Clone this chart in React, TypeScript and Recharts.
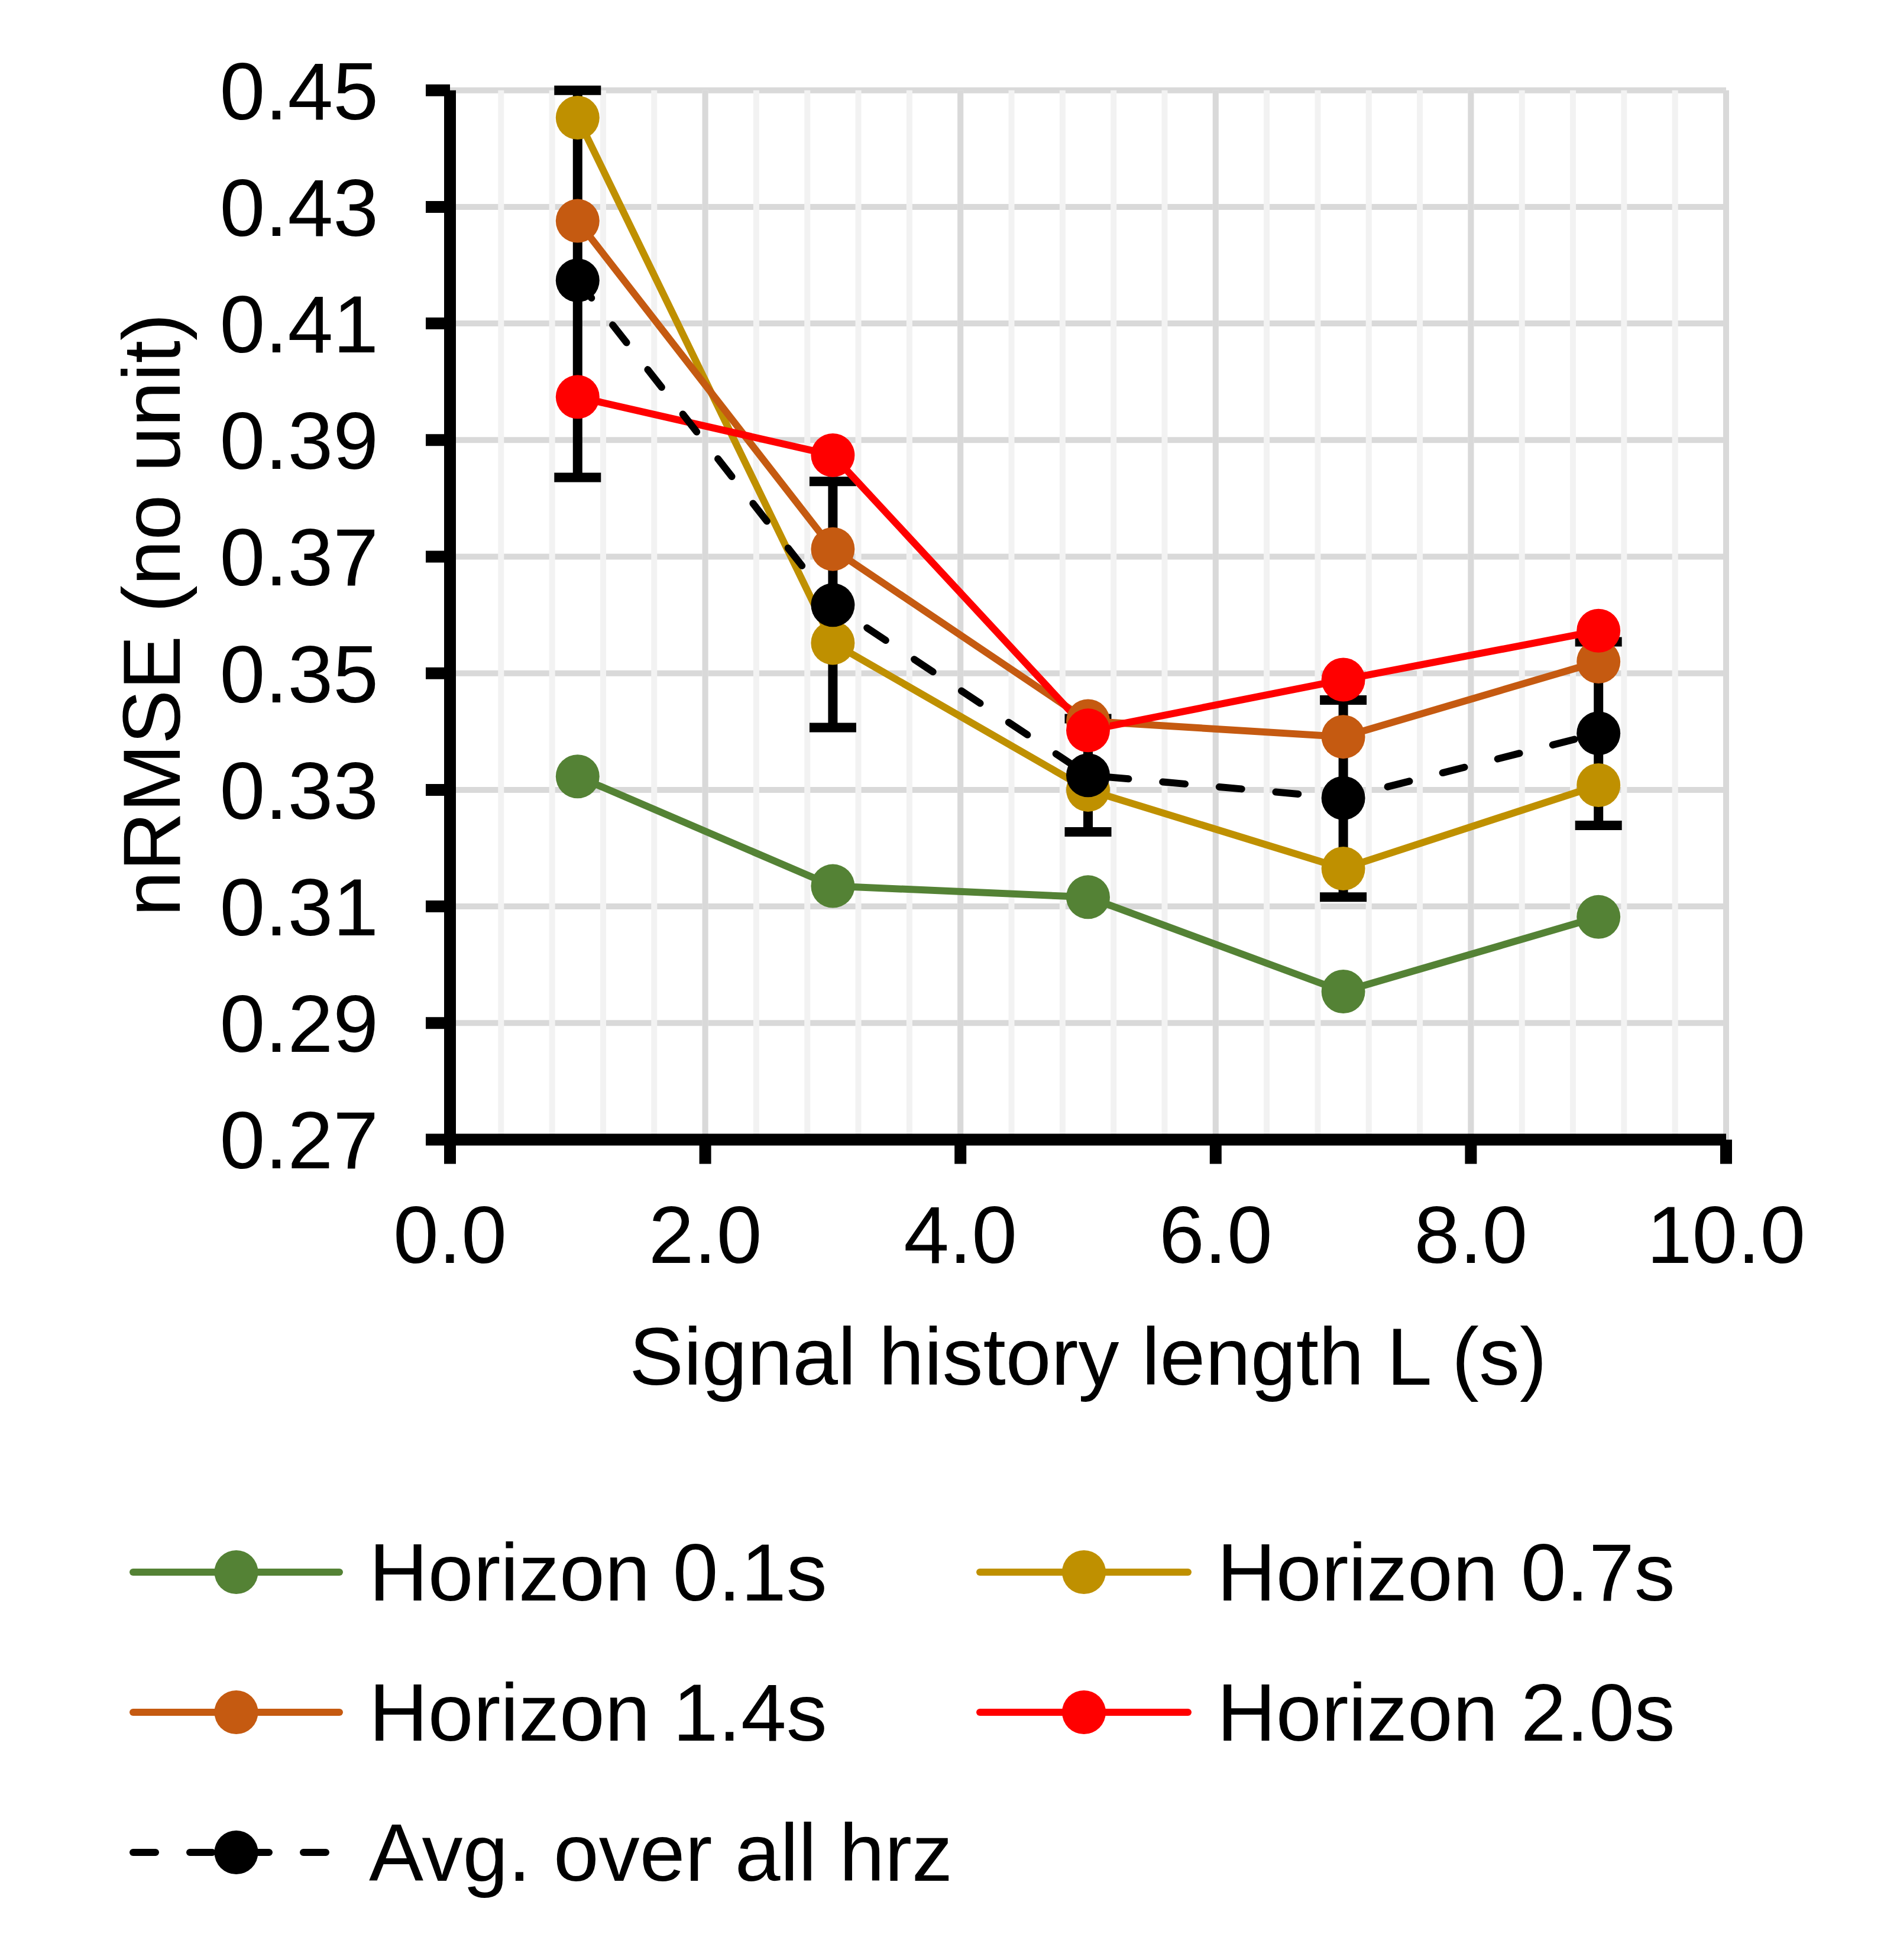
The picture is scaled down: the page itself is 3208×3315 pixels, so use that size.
import React from 'react';
import {
  LineChart,
  Line,
  XAxis,
  YAxis,
  CartesianGrid,
  ErrorBar,
  Legend,
  Label,
} from 'recharts';

// ---- data ----
const historyLengths = [1, 3, 5, 7, 9];
const horizon01 = [0.3323, 0.3135, 0.3116, 0.2954, 0.3082];
const horizon07 = [0.4453, 0.3552, 0.33, 0.3165, 0.3308];
const horizon14 = [0.4276, 0.3713, 0.3418, 0.3391, 0.352];
const horizon20 = [0.3974, 0.3874, 0.3402, 0.3489, 0.3573];
const avgAll = [0.4174, 0.3617, 0.3325, 0.3286, 0.3397];
const avgErrLow = [0.0338, 0.021, 0.0097, 0.017, 0.0158];
const avgErrHigh = [0.0326, 0.0212, 0.0097, 0.0168, 0.0157];

const xTicks = [0, 2, 4, 6, 8, 10];
const yTicks = [0.27, 0.29, 0.31, 0.33, 0.35, 0.37, 0.39, 0.41, 0.43, 0.45];
const xMinorTicks = Array.from({ length: 26 }, (_, i) => +(i * 0.4).toFixed(1));
const yMinorTicks = Array.from({ length: 46 }, (_, i) => +(0.27 + i * 0.004).toFixed(3));

const seriesDefs = [
  { key: 'h01', name: 'Horizon 0.1s', color: '#548235', dashed: false },
  { key: 'h07', name: 'Horizon 0.7s', color: '#BF9000', dashed: false },
  { key: 'h14', name: 'Horizon 1.4s', color: '#C55A11', dashed: false },
  { key: 'h20', name: 'Horizon 2.0s', color: '#FF0000', dashed: false },
  { key: 'avg', name: 'Avg. over all hrz', color: '#000000', dashed: true },
];

const data = historyLengths.map((x, i) => ({
  x,
  h01: horizon01[i],
  h07: horizon07[i],
  h14: horizon14[i],
  h20: horizon20[i],
  avg: avgAll[i],
  avgErr: [avgErrLow[i], avgErrHigh[i]],
}));

const FONT = '"Liberation Sans", Arial, Helvetica, sans-serif';
const FS = 138;
const LINE_W = 12;
const DOT_R = 37;
const DASH = '38 58';

const W = 3208;
const H = 3315;

const LegendBox = () => {
  const rows = [159, 396, 633];
  const cols = [
    { x1: 219, x2: 580, tx: 624 },
    { x1: 1651, x2: 2015, tx: 2058 },
  ];
  return (
    <svg width={W} height={720} style={{ display: 'block' }}>
      {seriesDefs.map((s, i) => {
        const r = rows[Math.floor(i / 2)];
        const c = cols[i % 2];
        const mid = (c.x1 + c.x2) / 2;
        return (
          <g key={s.key}>
            <line
              x1={c.x1 + LINE_W / 2}
              x2={c.x2 - LINE_W / 2}
              y1={r}
              y2={r}
              stroke={s.color}
              strokeWidth={LINE_W}
              strokeLinecap="round"
              strokeDasharray={s.dashed ? DASH : undefined}
            />
            <circle cx={mid} cy={r} r={DOT_R} fill={s.color} />
            <text x={c.tx} y={r + 48} fontSize={FS} fontFamily={FONT} fill="#000">
              {s.name}
            </text>
          </g>
        );
      })}
    </svg>
  );
};

export default function App() {
  return (
    <div style={{ position: 'absolute', left: 0, top: 0, width: W, height: H, background: '#fff' }}>
      <LineChart
        width={W}
        height={H}
        data={data}
        margin={{ top: 152.7, right: 289, bottom: 957.5, left: 0 }}
      >
        <XAxis xAxisId="minor" type="number" dataKey="x" domain={[0, 10]} ticks={xMinorTicks} interval={0} hide />
        <YAxis yAxisId="minor" type="number" domain={[0.27, 0.45]} ticks={yMinorTicks} interval={0} hide />
        <CartesianGrid yAxisId="minor" vertical={false} stroke="#F2F2F2" strokeWidth={10} />
        <CartesianGrid vertical={false} stroke="#D9D9D9" strokeWidth={10} />
        <CartesianGrid xAxisId="minor" horizontal={false} stroke="#F2F2F2" strokeWidth={10} />
        <CartesianGrid horizontal={false} stroke="#D9D9D9" strokeWidth={10} />
        <XAxis
          type="number"
          dataKey="x"
          domain={[0, 10]}
          ticks={xTicks}
          interval={0}
          height={430}
          tickFormatter={(v: number) => v.toFixed(1)}
          tick={{ fill: '#000', fontSize: FS, fontFamily: FONT }}
          tickSize={41}
          tickMargin={70}
          axisLine={{ stroke: '#000', strokeWidth: 20 }}
          tickLine={{ stroke: '#000', strokeWidth: 20 }}
        >
          <Label
            content={(props: any) => {
              const vb = props.viewBox || {};
              return (
                <text
                  x={vb.x + vb.width / 2}
                  y={vb.y + 414}
                  textAnchor="middle"
                  fontSize={FS}
                  fontFamily={FONT}
                  fill="#000"
                >
                  Signal history length L (s)
                </text>
              );
            }}
          />
        </XAxis>
        <YAxis
          type="number"
          domain={[0.27, 0.45]}
          ticks={yTicks}
          interval={0}
          width={761}
          tickFormatter={(v: number) => v.toFixed(2)}
          tick={{ fill: '#000', fontSize: FS, fontFamily: FONT }}
          tickSize={41}
          tickMargin={80}
          axisLine={{ stroke: '#000', strokeWidth: 20 }}
          tickLine={{ stroke: '#000', strokeWidth: 20 }}
        >
          <Label
            content={(props: any) => {
              const vb = props.viewBox || {};
              const cx = vb.x + 304;
              const cy = vb.y + vb.height / 2;
              return (
                <text
                  x={cx}
                  y={cy}
                  transform={`rotate(-90, ${cx}, ${cy})`}
                  textAnchor="middle"
                  fontSize={FS}
                  fontFamily={FONT}
                  fill="#000"
                >
                  nRMSE (no unit)
                </text>
              );
            }}
          />
        </YAxis>
        <Line
          dataKey="avg"
          stroke="none"
          dot={false}
          activeDot={false}
          legendType="none"
          isAnimationActive={false}
        >
          <ErrorBar dataKey="avgErr" direction="y" width={39.5} strokeWidth={16} stroke="#000" isAnimationActive={false} />
        </Line>
        {seriesDefs.map((s) => (
          <Line
            key={s.key}
            dataKey={s.key}
            name={s.name}
            type="linear"
            stroke={s.color}
            strokeWidth={LINE_W}
            strokeDasharray={s.dashed ? DASH : undefined}
            strokeLinecap="round"
            dot={{ r: DOT_R, fill: s.color, stroke: 'none', strokeWidth: 0 }}
            activeDot={false}
            isAnimationActive={false}
          />
        ))}
        <Legend
          layout="horizontal"
          verticalAlign="middle"
          align="center"
          wrapperStyle={{ left: 0, top: 2500, width: W, height: 720 }}
          content={() => <LegendBox />}
        />
      </LineChart>
    </div>
  );
}
